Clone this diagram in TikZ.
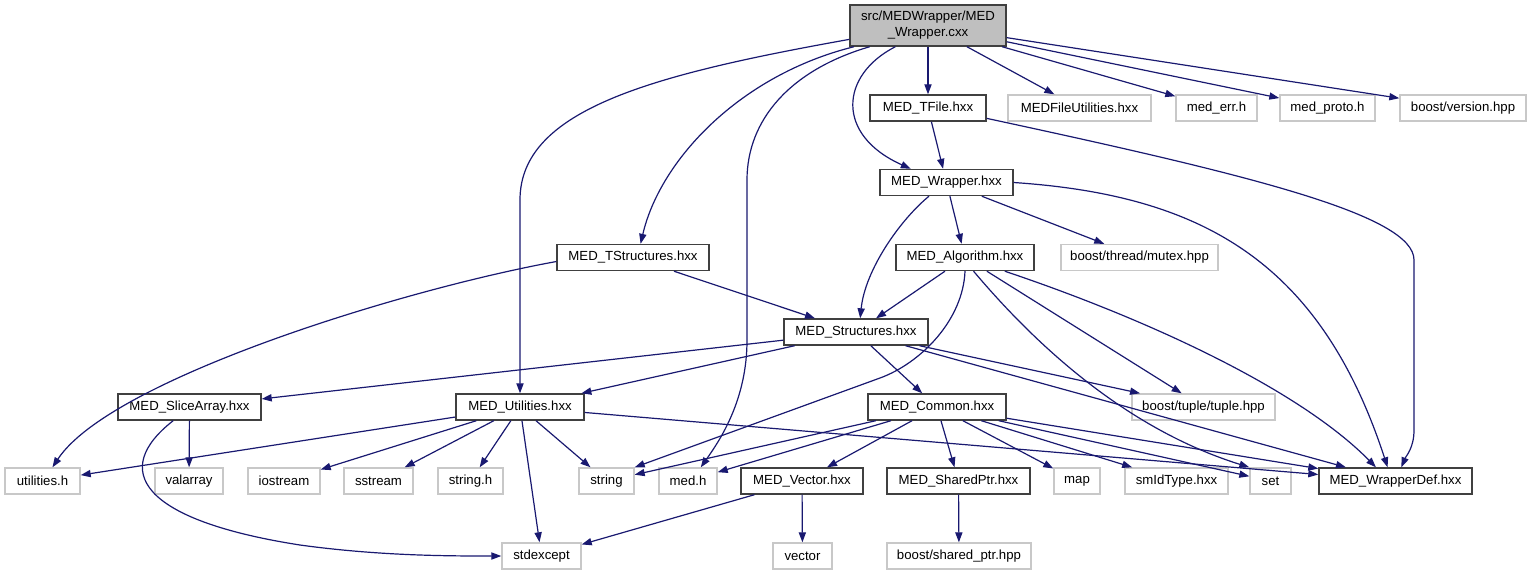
\documentclass[tikz,border=0pt]{standalone}
\usepackage{fontspec}
\setmainfont{Liberation Sans}
\usetikzlibrary{arrows.meta}
\definecolor{incblue}{RGB}{25,25,112}
\definecolor{srcgray}{RGB}{191,191,191}
\definecolor{extgray}{RGB}{200,200,200}

\begin{document}
\begin{tikzpicture}[
  x=0.5pt, y=-0.5pt,
  file/.style={rectangle, draw=black!75, fill=white, line width=0.7pt, inner sep=0pt, minimum height=13pt, font=\fontsize{6.6}{8}\selectfont},
  ext/.style={file, draw=extgray},
  srcfile/.style={file, fill=srcgray, minimum height=20.5pt, align=center},
  inc/.style={-{Triangle[length=5pt, width=3.6pt]}, incblue, line width=0.6pt}
]
  \useasboundingbox (0,0) rectangle (1531,575);

  %% ── Row 0: the compiled source ────────────────────────────────────────────
  \node[srcfile, minimum width=78pt] (src) at (928,25.5) {src/MEDWrapper/MED\\\_Wrapper.cxx};

  %% ── Row 1: MED_TFile · MEDFileUtilities · med_err · med_proto · version ──
  \node[file, minimum width=58pt]   (tfile)    at (928,108)    {MED\_TFile.hxx};
  \node[ext,  minimum width=71.5pt] (fileutil) at (1079.5,108) {MEDFileUtilities.hxx};
  \node[ext,  minimum width=40.5pt] (mederr)   at (1216.5,108) {med\_err.h};
  \node[ext,  minimum width=47.5pt] (medproto) at (1327.5,108) {med\_proto.h};
  \node[ext,  minimum width=63pt]   (bversion) at (1463,108)   {boost/version.hpp};

  %% ── Row 2: MED_Wrapper ────────────────────────────────────────────────────
  \node[file, minimum width=66.5pt] (wrap) at (946.5,182.5) {MED\_Wrapper.hxx};

  %% ── Row 3: MED_TStructures · MED_Algorithm · mutex ───────────────────────
  \node[file, minimum width=76pt]   (tstruct) at (633,257.5)    {MED\_TStructures.hxx};
  \node[file, minimum width=69pt]   (algo)    at (965,257.5)    {MED\_Algorithm.hxx};
  \node[ext,  minimum width=78.5pt] (mutex)   at (1139.5,257.5) {boost/thread/mutex.hpp};

  %% ── Row 4: MED_Structures ─────────────────────────────────────────────────
  \node[file, minimum width=72pt] (struct) at (856,332) {MED\_Structures.hxx};

  %% ── Row 5: MED_SliceArray · MED_Utilities · MED_Common · tuple ───────────
  \node[file, minimum width=71.5pt] (slice)  at (189.5,407)  {MED\_SliceArray.hxx};
  \node[file, minimum width=64pt]   (util)   at (520,407)    {MED\_Utilities.hxx};
  \node[file, minimum width=69pt]   (common) at (937,407)    {MED\_Common.hxx};
  \node[ext,  minimum width=71.5pt] (tuple)  at (1203.5,407) {boost/tuple/tuple.hpp};

  %% ── Row 6: leaf headers ───────────────────────────────────────────────────
  \node[ext,  minimum width=37.5pt] (utilh)  at (42.5,481)   {utilities.h};
  \node[ext,  minimum width=34pt]   (valarr) at (189,481)    {valarray};
  \node[ext,  minimum width=36pt]   (iostr)  at (284,481)    {iostream};
  \node[ext,  minimum width=34.5pt] (sstr)   at (378.5,481)  {sstream};
  \node[ext,  minimum width=32.5pt] (strh)   at (470.5,481)  {string.h};
  \node[ext,  minimum width=27.5pt] (str)    at (606.5,481)  {string};
  \node[ext,  minimum width=29pt]   (medh)   at (688,481)    {med.h};
  \node[file, minimum width=61pt]   (vec)    at (802,481)    {MED\_Vector.hxx};
  \node[file, minimum width=71.5pt] (sptr)   at (958.5,481)  {MED\_SharedPtr.hxx};
  \node[ext,  minimum width=23pt]   (stdmap) at (1077,481)   {map};
  \node[ext,  minimum width=51.5pt] (smid)   at (1176.5,481) {smIdType.hxx};
  \node[ext,  minimum width=20.5pt] (stdset) at (1270.5,481) {set};
  \node[file, minimum width=76.5pt] (wdef)   at (1395.5,481) {MED\_WrapperDef.hxx};

  %% ── Row 7: stdexcept · vector · shared_ptr ───────────────────────────────
  \node[ext, minimum width=39.5pt] (stdexc) at (541.5,556) {stdexcept};
  \node[ext, minimum width=29.5pt] (stdvec) at (802.5,556) {vector};
  \node[ext, minimum width=72pt]   (bsptr)  at (959,556)   {boost/shared\_ptr.hpp};

  %% ── Includes ──────────────────────────────────────────────────────────────
  % MED_Wrapper.cxx → ...
  \draw[inc] (src.190) .. controls (650,75) and (520,110) .. (520,200) -- (util.north);
  \draw[inc] (src.196) .. controls (740,75) and (660,160) .. (tstruct.61);
  \draw[inc] (src.200) .. controls (790,70) and (747,120) .. (747,180) -- (747,340)
    .. controls (747,400) and (720,440) .. (medh.47);
  \draw[inc] (src.213) .. controls (840,75) and (835,135) .. (wrap.159);
  \draw[inc] (src) -- (tfile);
  \draw[inc] (src) -- (fileutil);
  \draw[inc] (src) -- (mederr);
  \draw[inc] (src) -- (medproto);
  \draw[inc] (src) -- (bversion);
  % MED_TFile → MED_Wrapper, MED_WrapperDef
  \draw[inc] (tfile) -- (wrap);
  \draw[inc] (tfile.350) .. controls (1250,175) and (1414,215) .. (1414,260) -- (1414,430)
    .. controls (1414,448) and (1406,456) .. (wdef.67);
  % MED_Wrapper → ...
  \draw[inc] (wrap.218) .. controls (900,220) and (865,270) .. (struct.73);
  \draw[inc] (wrap) -- (algo);
  \draw[inc] (wrap) -- (mutex);
  \draw[inc] (wrap.east) .. controls (1200,195) and (1320,260) .. (wdef.120);
  % MED_TStructures → utilities.h, MED_Structures
  \draw[inc] (tstruct.183) .. controls (400,290) and (110,380) .. (utilh.54);
  \draw[inc] (tstruct) -- (struct);
  % MED_Algorithm → ...
  \draw[inc] (algo) -- (struct);
  \draw[inc] (algo.south) .. controls (963,320) and (921,363) .. (880,378) -- (str.north east);
  \draw[inc] (algo) -- (tuple);
  \draw[inc] (algo.302) .. controls (1040,350) and (1130,430) .. (stdset.north west);
  \draw[inc] (algo.341) .. controls (1150,320) and (1300,390) .. (wdef.145);
  % MED_Structures → ...
  \draw[inc] (struct) -- (slice);
  \draw[inc] (struct) -- (util);
  \draw[inc] (struct) -- (common);
  \draw[inc] (struct) -- (tuple);
  \draw[inc] (struct) -- (wdef);
  % MED_SliceArray → valarray, stdexcept
  \draw[inc] (slice) -- (valarr);
  \draw[inc] (slice.220) .. controls (110,470) and (140,520) .. (300,545)
    .. controls (380,556) and (450,556) .. (stdexc.west);
  % MED_Utilities → ...
  \draw[inc] (util) -- (utilh);
  \draw[inc] (util) -- (iostr);
  \draw[inc] (util) -- (sstr);
  \draw[inc] (util) -- (strh);
  \draw[inc] (util) -- (str);
  \draw[inc] (util) -- (stdexc);
  \draw[inc] (util) -- (wdef);
  % MED_Common → ...
  \draw[inc] (common) -- (str);
  \draw[inc] (common) -- (medh);
  \draw[inc] (common) -- (vec);
  \draw[inc] (common) -- (sptr);
  \draw[inc] (common) -- (stdmap);
  \draw[inc] (common) -- (smid);
  \draw[inc] (common) -- (stdset);
  \draw[inc] (common) -- (wdef);
  % MED_Vector → stdexcept, vector
  \draw[inc] (vec) -- (stdexc);
  \draw[inc] (vec) -- (stdvec);
  % MED_SharedPtr → shared_ptr
  \draw[inc] (sptr) -- (bsptr);
\end{tikzpicture}
\end{document}
